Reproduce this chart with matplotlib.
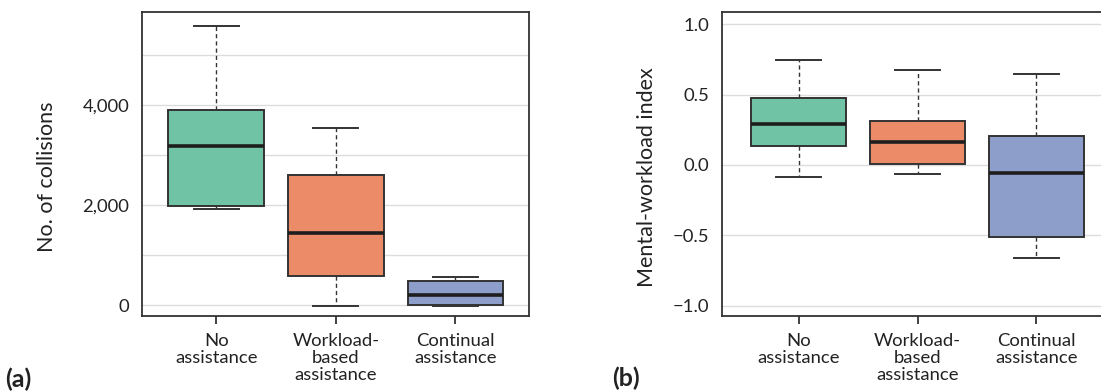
import matplotlib
matplotlib.use("Agg")
import matplotlib.pyplot as plt

plt.rcParams['font.family'] = ['Lato', 'DejaVu Sans']

# ---- data ----
categories = ["No\nassistance", "Workload-\nbased\nassistance", "Continual\nassistance"]
colors = ["#70c3a4", "#ec8b67", "#8e9ecb"]

# panel (a): number of collisions  (whislo, q1, med, q3, whishi)
coll_whislo = [1920, -20, -20]
coll_q1 = [1993, 593, 0]
coll_med = [3186, 1453, 200]
coll_q3 = [3900, 2612, 480]
coll_whishi = [5592, 3540, 567]

# panel (b): mental-workload index
mw_whislo = [-0.085, -0.066, -0.659]
mw_q1 = [0.133, 0.005, -0.514]
mw_med = [0.292, 0.161, -0.055]
mw_q3 = [0.474, 0.315, 0.206]
mw_whishi = [0.747, 0.678, 0.649]

a_ticks = [0, 2000, 4000]
a_ticklabels = ["0", "2,000", "4,000"]
a_minor = [1000, 3000, 5000]
b_ticks = [-1.0, -0.5, 0.0, 0.5, 1.0]
b_ticklabels = ["\u22121.0", "\u22120.5", "0.0", "0.5", "1.0"]

W, H = 1101, 391
fig = plt.figure(figsize=(W / 100, H / 100), dpi=100)

ax_bottom = (H - 316) / H
ax_height = (316 - 12.3) / H
ax_width = 387.6 / W
axa = fig.add_axes([141.7 / W, ax_bottom, ax_width, ax_height])
axb = fig.add_axes([722 / W, ax_bottom, ax_width, ax_height])

EDGE = "#333333"


def make_stats(lo, q1, med, q3, hi):
    out = []
    for i in range(len(med)):
        out.append(dict(whislo=lo[i], q1=q1[i], med=med[i], q3=q3[i],
                        whishi=hi[i], fliers=[], label=categories[i]))
    return out


def draw(ax, stats):
    bp = ax.bxp(stats, positions=[1, 2, 3], widths=0.8, capwidths=0.377,
                patch_artist=True, showfliers=False,
                boxprops=dict(edgecolor=EDGE, linewidth=1.4),
                medianprops=dict(color="#1e1e1e", linewidth=2.6, solid_capstyle="butt"),
                whiskerprops=dict(color=EDGE, linewidth=1.0, linestyle=(0, (3.0, 2.2))),
                capprops=dict(color=EDGE, linewidth=1.4),
                zorder=3)
    for patch, c in zip(bp["boxes"], colors):
        patch.set_facecolor(c)
    ax.set_xticks([1, 2, 3])
    ax.set_xticklabels(categories, fontsize=13.3, linespacing=1.1, color="#222222")
    ax.tick_params(axis="x", length=6, width=1.3, color=EDGE, pad=6)
    ax.tick_params(axis="y", which="both", length=0, labelsize=13.3, pad=9,
                   labelcolor="#222222")
    for s in ax.spines.values():
        s.set_color(EDGE)
        s.set_linewidth(1.3)
    ax.set_axisbelow(True)
    ax.grid(axis="y", which="both", color="#dcdcdc", linewidth=1.0, zorder=0)


draw(axa, make_stats(coll_whislo, coll_q1, coll_med, coll_q3, coll_whishi))
draw(axb, make_stats(mw_whislo, mw_q1, mw_med, mw_q3, mw_whishi))

axa.set_xlim(0.376, 3.619)
axa.set_ylim(-214, 5860)
axa.set_yticks(a_ticks)
axa.set_yticklabels(a_ticklabels)
axa.set_yticks(a_minor, minor=True)

axb.set_xlim(0.354, 3.617)
axb.set_ylim(-1.074, 1.086)
axb.set_yticks(b_ticks)
axb.set_yticklabels(b_ticklabels)

axa.set_ylabel("No. of collisions", fontsize=15.5, color="#222222",
               va="baseline", ha="center")
axa.yaxis.set_label_coords(-0.228, 0.4587)
axb.set_ylabel("Mental-workload index", fontsize=15.5, color="#222222",
               va="baseline", ha="center")
axb.yaxis.set_label_coords(-0.1785, 0.456)

fig.text(5 / W, (H - 379) / H, "(a)", fontsize=18, fontweight="bold",
         ha="left", va="center", color="#222222")
fig.text(611.7 / W, (H - 378) / H, "(b)", fontsize=18, fontweight="bold",
         ha="left", va="center", color="#222222")

fig.savefig("out.png", dpi=100)
